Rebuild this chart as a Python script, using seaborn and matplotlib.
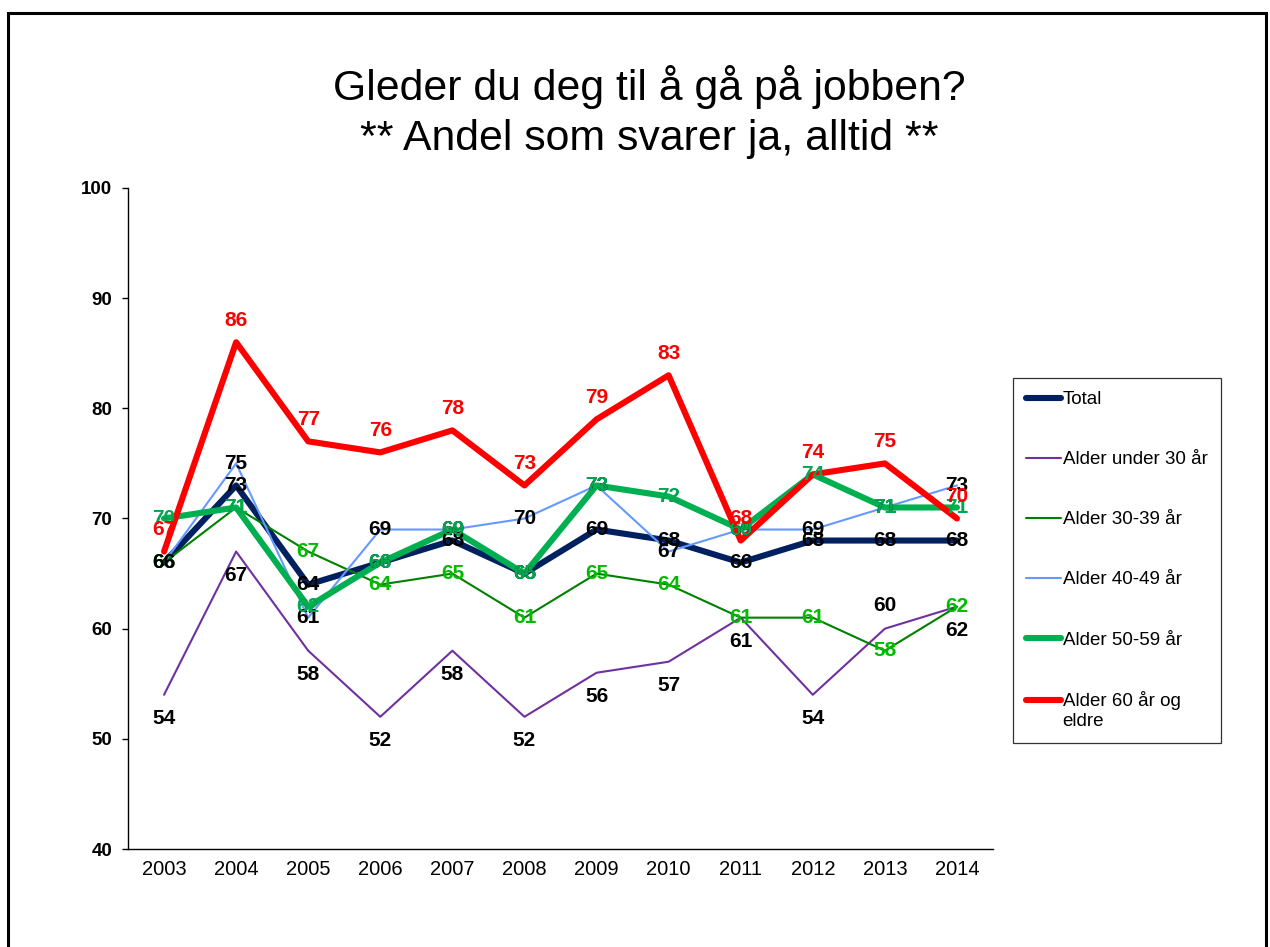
import matplotlib
matplotlib.use("Agg")
import matplotlib.pyplot as plt
import seaborn as sns
import pandas as pd
from matplotlib.legend_handler import HandlerLine2D
from matplotlib.patches import Rectangle

# ---------------- data ----------------
years = ["2003", "2004", "2005", "2006", "2007", "2008",
         "2009", "2010", "2011", "2012", "2013", "2014"]
total = [66, 73, 64, 66, 68, 65, 69, 68, 66, 68, 68, 68]
under30 = [54, 67, 58, 52, 58, 52, 56, 57, 61, 54, 60, 62]
age30_39 = [66, 71, 67, 64, 65, 61, 65, 64, 61, 61, 58, 62]
age40_49 = [66, 75, 61, 69, 69, 70, 73, 67, 69, 69, 71, 73]
age50_59 = [70, 71, 62, 66, 69, 65, 73, 72, 69, 74, 71, 71]
age60p = [67, 86, 77, 76, 78, 73, 79, 83, 68, 74, 75, 70]

series_names = ["Total", "Alder under 30 år", "Alder 30-39 år",
                "Alder 40-49 år", "Alder 50-59 år", "Alder 60 år og\neldre"]
series_values = [total, under30, age30_39, age40_49, age50_59, age60p]

title_line1 = "Gleder du deg til å gå på jobben?"
title_line2 = "** Andel som svarer ja, alltid **"

# ---------------- styles ----------------
line_colors = ["#002060", "#7030A0", "#008000", "#6699FF", "#00B050", "#FF0000"]
line_widths = [4.4, 1.5, 1.5, 1.5, 4.4, 4.4]
label_colors = ["#000000", "#000000", "#00BB00", "#000000", "#00A650", "#FF0000"]
# vertical label offsets in points (negative = below)
label_offsets = [
    [0] * 12,
    [-17, -17, -17, -17, -17, -17, -17, -17, -17, -17, 17, -17],
    [0] * 12,
    [0] * 12,
    [0] * 12,
    [16] * 12,
]

sns.set_theme(style="white")
plt.rcParams["font.family"] = ["Liberation Sans", "DejaVu Sans"]
plt.rcParams["text.color"] = "#000000"
plt.rcParams["xtick.color"] = "#000000"
plt.rcParams["ytick.color"] = "#000000"
plt.rcParams["axes.labelcolor"] = "#000000"

rows = []
for name, vals in zip(series_names, series_values):
    for y, v in zip(years, vals):
        rows.append({"År": y, "Andel": v, "Gruppe": name})
df = pd.DataFrame(rows)

fig = plt.figure(figsize=(12.70, 9.47), dpi=100)
ax = fig.add_axes([128 / 1270, 1 - 849 / 947, (993 - 128) / 1270, (849 - 188) / 947])

sns.lineplot(data=df, x="År", y="Andel", hue="Gruppe", size="Gruppe",
             hue_order=series_names, size_order=series_names,
             palette=dict(zip(series_names, line_colors)),
             sizes=dict(zip(series_names, line_widths)),
             sort=False, legend=False, ax=ax)

for line in ax.get_lines():
    line.set_solid_joinstyle("round")
    line.set_solid_capstyle("round")

# data labels
for vals, col, offs in zip(series_values, label_colors, label_offsets):
    for i, (y, v) in enumerate(zip(years, vals)):
        ax.annotate(str(v), xy=(i, v), xytext=(0, offs[i]),
                    textcoords="offset points", ha="center", va="center",
                    fontsize=15, fontweight="bold", color=col, zorder=10)

ax.set_xlim(-0.5, len(years) - 0.5)
ax.set_ylim(40, 100)
ax.set_yticks([40, 50, 60, 70, 80, 90, 100])
ax.set_xlabel("")
ax.set_ylabel("")
for side in ["top", "right"]:
    ax.spines[side].set_visible(False)
for side in ["left", "bottom"]:
    ax.spines[side].set_color("#000000")
    ax.spines[side].set_linewidth(1.0)
ax.tick_params(axis="y", which="major", direction="out", length=4.5, width=1.0,
               color="#000000", left=True, pad=7, labelsize=13.5, labelcolor="#000000")
ax.tick_params(axis="x", which="major", length=0, pad=8, labelsize=14.5,
               labelcolor="#000000")
for t in ax.get_yticklabels():
    t.set_fontweight("bold")

# legend
class FirstLineHandler(HandlerLine2D):
    def create_artists(self, legend, orig_handle, xdescent, ydescent,
                       width, height, fontsize, trans):
        return super().create_artists(legend, orig_handle, xdescent,
                                      ydescent - 15, width, height, fontsize, trans)

handles = ax.get_lines()[:len(series_names)]
leg = ax.legend(handles, series_names, loc="upper left",
                bbox_to_anchor=(1013 / 1270, 1 - 378 / 947),
                bbox_transform=fig.transFigure, borderaxespad=0,
                fontsize=13.5, frameon=True, fancybox=False,
                labelspacing=2.29, handlelength=1.85, handletextpad=0.1,
                borderpad=0.7, handler_map={handles[-1]: FirstLineHandler()})
leg.get_frame().set_edgecolor("#000000")
leg.get_frame().set_linewidth(0.9)
for t in leg.get_texts():
    t.set_color("#000000")

# title
fig.text(649 / 1270, 1 - 100 / 947, title_line1, ha="center", va="baseline",
         fontsize=30.8, color="#000000")
fig.text(649 / 1270, 1 - 150 / 947, title_line2, ha="center", va="baseline",
         fontsize=30.8, color="#000000")

# outer frame
fig.patches.append(Rectangle((8 / 1270, -0.1), (1266 - 8) / 1270, 1.1 - 13 / 947,
                             transform=fig.transFigure, fill=False,
                             edgecolor="#000000", linewidth=2.2))

fig.savefig("out.png", dpi=100)
